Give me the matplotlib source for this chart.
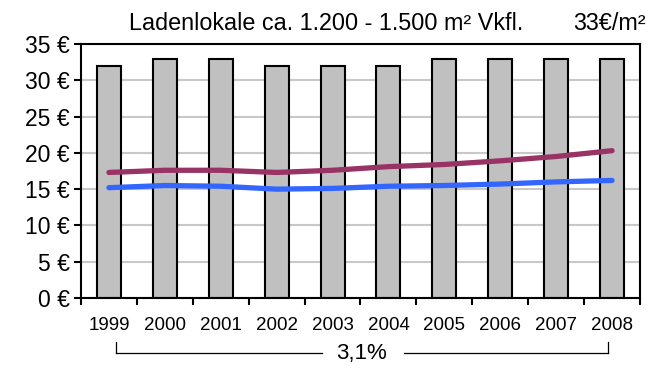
import matplotlib
matplotlib.use("Agg")
import matplotlib.pyplot as plt
from matplotlib.ticker import FixedLocator, FuncFormatter

plt.rcParams['font.family'] = ['Liberation Sans', 'DejaVu Sans']

years = ['1999', '2000', '2001', '2002', '2003', '2004', '2005', '2006', '2007', '2008']
rent_top = [32, 33, 33, 32, 32, 32, 33, 33, 33, 33]
rent_upper = [17.3, 17.6, 17.6, 17.3, 17.6, 18.1, 18.4, 18.9, 19.5, 20.3]
rent_lower = [15.2, 15.5, 15.4, 15.0, 15.1, 15.4, 15.5, 15.7, 16.0, 16.2]
y_ticks = [0, 5, 10, 15, 20, 25, 30, 35]
growth_label = '3,1%'
title = 'Ladenlokale ca. 1.200 - 1.500 m² Vkfl.'
top_label = '33€/m²'

fig = plt.figure(figsize=(6.53, 3.68), dpi=100)
ax = fig.add_axes([81 / 653, 1 - 298 / 368, (640 - 81) / 653, (298 - 44) / 368])

x = list(range(len(years)))
ax.bar(x, rent_top, width=0.43, color='#C0C0C0', edgecolor='black', linewidth=1.5, zorder=2)
ax.plot(x, rent_upper, color='#993366', linewidth=3.8, solid_capstyle='round',
        solid_joinstyle='round', zorder=3)
ax.plot(x, rent_lower, color='#3366FF', linewidth=3.8, solid_capstyle='round',
        solid_joinstyle='round', zorder=3)

ax.set_xlim(-0.5, len(years) - 0.5)
ax.set_ylim(0, 35)
ax.yaxis.set_major_locator(FixedLocator(y_ticks))
ax.yaxis.set_major_formatter(FuncFormatter(lambda v, p: f'{int(v)} €'))
ax.grid(axis='y', color='#C8C8C8', linewidth=1.5, zorder=0)
ax.set_axisbelow(True)

ax.xaxis.set_major_locator(FixedLocator([i - 0.5 for i in range(len(years) + 1)]))
ax.xaxis.set_major_formatter(FuncFormatter(lambda v, p: ''))
ax.xaxis.set_minor_locator(FixedLocator(x))
ax.set_xticklabels(years, minor=True)
ax.tick_params(axis='x', which='minor', length=0, pad=14, labelsize=13.5)
ax.tick_params(axis='x', which='major', direction='out', length=5, width=1.5)
ax.tick_params(axis='y', direction='out', length=5, width=1.5, labelsize=16.5, pad=3)

for s in ax.spines.values():
    s.set_linewidth(1.5)
    s.set_color('black')

fig.text(326 / 653, 1 - 23 / 368, title, ha='center', va='center', fontsize=16.8)
fig.text(609 / 653, 1 - 23 / 368, top_label, ha='center', va='center', fontsize=16.8)

# growth bracket under the year labels
yb = 1 - 353 / 368
yt = 1 - 342 / 368
lw = 0.9
fig.add_artist(plt.Line2D([116 / 653, 322 / 653], [yb, yb], color='black', linewidth=lw))
fig.add_artist(plt.Line2D([404 / 653, 608 / 653], [yb, yb], color='black', linewidth=lw))
fig.add_artist(plt.Line2D([116 / 653, 116 / 653], [yb, yt], color='black', linewidth=lw))
fig.add_artist(plt.Line2D([608 / 653, 608 / 653], [yb, yt], color='black', linewidth=lw))
fig.text(361 / 653, yb, growth_label, ha='center', va='center', fontsize=16)

fig.savefig('out.png', dpi=100)
